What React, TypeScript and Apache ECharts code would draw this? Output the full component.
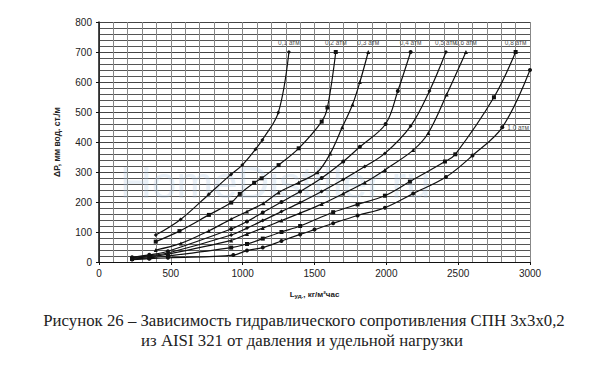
import React, { useEffect, useRef } from "react";
import * as echarts from "echarts";

const curveNames = ["0,1 атм", "0,2 атм", "0,3 атм", "0,4 атм", "0,5 атм", "0,6 атм", "0,8 атм", "1,0 атм"];

const p01 = [[395, 90], [568, 142], [765, 226], [919, 292], [997, 323], [1090, 376], [1137, 407], [1248, 498], [1322, 700]];
const p02 = [[395, 68], [560, 103], [765, 157], [920, 198], [980, 227], [1080, 264], [1132, 279], [1250, 323], [1390, 379], [1550, 468], [1590, 515], [1648, 700]];
const p03 = [[395, 40], [570, 62], [765, 104], [920, 143], [1030, 168], [1145, 196], [1250, 232], [1390, 265], [1520, 299], [1610, 362], [1693, 449], [1765, 525], [1816, 600], [1874, 700]];
const p04 = [[230, 16], [350, 24], [480, 36], [920, 110], [1030, 135], [1140, 165], [1270, 200], [1400, 235], [1550, 280], [1700, 335], [1816, 384], [1995, 460], [2080, 570], [2169, 700]];
const p05 = [[230, 14], [350, 21], [480, 30], [920, 90], [1030, 113], [1140, 138], [1270, 168], [1400, 198], [1550, 235], [1700, 275], [1850, 318], [1990, 362], [2169, 453], [2300, 570], [2415, 700]];
const p06 = [[230, 12], [350, 18], [480, 26], [920, 72], [1030, 93], [1140, 113], [1270, 138], [1400, 163], [1550, 193], [1700, 228], [1850, 265], [1990, 307], [2187, 373], [2292, 430], [2420, 558], [2554, 700]];
const p08 = [[230, 10], [350, 14], [480, 20], [920, 48], [1030, 60], [1140, 78], [1270, 100], [1400, 120], [1630, 166], [1800, 192], [1990, 221], [2164, 268], [2408, 335], [2480, 359], [2749, 549], [2900, 700]];
const p10 = [[230, 8], [350, 11], [480, 14], [935, 23], [1030, 38], [1140, 48], [1270, 70], [1400, 92], [1500, 108], [1630, 129], [1800, 155], [1990, 181], [2187, 228], [2415, 283], [2600, 355], [2807, 449], [3000, 640]];

const curves = [p01, p02, p03, p04, p05, p06, p08, p10];
const symbols = ["diamond", "rect", "triangle", "circle", "diamond", "triangle", "rect", "circle"];
const labelIndex = [8, 11, 13, 13, 14, 15, 15, 15];

const captionLines = [
  "Рисунок 26 – Зависимость гидравлического сопротивления СПН 3х3х0,2",
  "из AISI 321 от давления и удельной нагрузки",
];

const FONT = "Liberation Sans, Arial, sans-serif";

export default function App() {
  const ref = useRef<HTMLDivElement>(null);
  useEffect(() => {
    if (!ref.current) return;
    const chart = echarts.init(ref.current, null, { renderer: "svg" });
    const series = curves.map((pts, i) => {
      const isLast = i === curves.length - 1;
      return {
        type: "line",
        name: curveNames[i],
        smooth: 0.35,
        symbol: symbols[i],
        symbolSize: 4,
        lineStyle: { color: "#111", width: 1.2 },
        itemStyle: { color: "#111" },
        z: 5,
        data: pts.map((p, j) => {
          if (j === labelIndex[i]) {
            return {
              value: p,
              label: {
                show: true,
                formatter: curveNames[i],
                position: isLast ? "right" : "top",
                distance: isLast ? 3 : 4,
                fontSize: 6.5,
                color: "#555",
                fontFamily: FONT,
              },
            };
          }
          return { value: p };
        }),
      };
    });
    chart.setOption({
      animation: false,
      backgroundColor: "#fff",
      grid: { left: 99, right: 68, top: 22, bottom: 107 },
      xAxis: {
        type: "value",
        min: 0,
        max: 3000,
        interval: 500,
        name: "{b|L}{s|уд.}{b|, кг/м²час}",
        nameLocation: "middle",
        nameGap: 27,
        nameTextStyle: {
          rich: {
            b: { fontSize: 8, fontWeight: "bold", color: "#222", fontFamily: FONT },
            s: { fontSize: 6, fontWeight: "bold", color: "#222", verticalAlign: "bottom", padding: [4, 0, 0, 0], fontFamily: FONT },
          },
        },
        axisLine: { show: true, lineStyle: { color: "#111", width: 1 } },
        axisTick: { show: true, length: 3, lineStyle: { color: "#111" } },
        axisLabel: { fontSize: 10, color: "#222", margin: 6, fontFamily: FONT, formatter: (v: number) => String(v) },
        splitLine: { show: true, lineStyle: { color: "#888", width: 1 } },
        minorTick: { show: false, splitNumber: 5 },
        minorSplitLine: { show: true, lineStyle: { color: "#888", width: 1 } },
      },
      yAxis: {
        type: "value",
        min: 0,
        max: 800,
        interval: 100,
        name: "ΔP, мм вод. ст./м",
        nameLocation: "middle",
        nameGap: 38,
        nameTextStyle: { fontSize: 8.5, fontWeight: "bold", color: "#222", fontFamily: FONT },
        axisLine: { show: true, lineStyle: { color: "#111", width: 1.5 } },
        axisTick: { show: true, length: 3, lineStyle: { color: "#111" } },
        axisLabel: { fontSize: 10, color: "#222", margin: 7, fontFamily: FONT, formatter: (v: number) => String(v) },
        splitLine: { show: true, lineStyle: { color: "#444", width: 1 } },
        minorTick: { show: false, splitNumber: 5 },
        minorSplitLine: { show: true, lineStyle: { color: "#555", width: 1 } },
      },
      graphic: [
        {
          type: "text",
          left: 120,
          top: 160,
          z: 1,
          style: {
            text: "HomeDistiller.ru",
            fontSize: 44,
            fill: "rgba(175,200,225,0.3)",
            fontFamily: FONT,
          },
        },
        {
          type: "text",
          x: 304,
          y: 320,
          style: {
            text: captionLines[0],
            fontSize: 16.8,
            fill: "#222",
            align: "center",
            verticalAlign: "middle",
            fontFamily: "Liberation Serif, Times New Roman, serif",
          },
        },
        {
          type: "text",
          x: 302,
          y: 340,
          style: {
            text: captionLines[1],
            fontSize: 16.8,
            fill: "#222",
            align: "center",
            verticalAlign: "middle",
            fontFamily: "Liberation Serif, Times New Roman, serif",
          },
        },
      ],
      series,
    });
    return () => chart.dispose();
  }, []);
  return (
    <div
      ref={ref}
      style={{ position: "fixed", left: 0, top: 0, width: 598, height: 369, background: "#fff" }}
    />
  );
}
